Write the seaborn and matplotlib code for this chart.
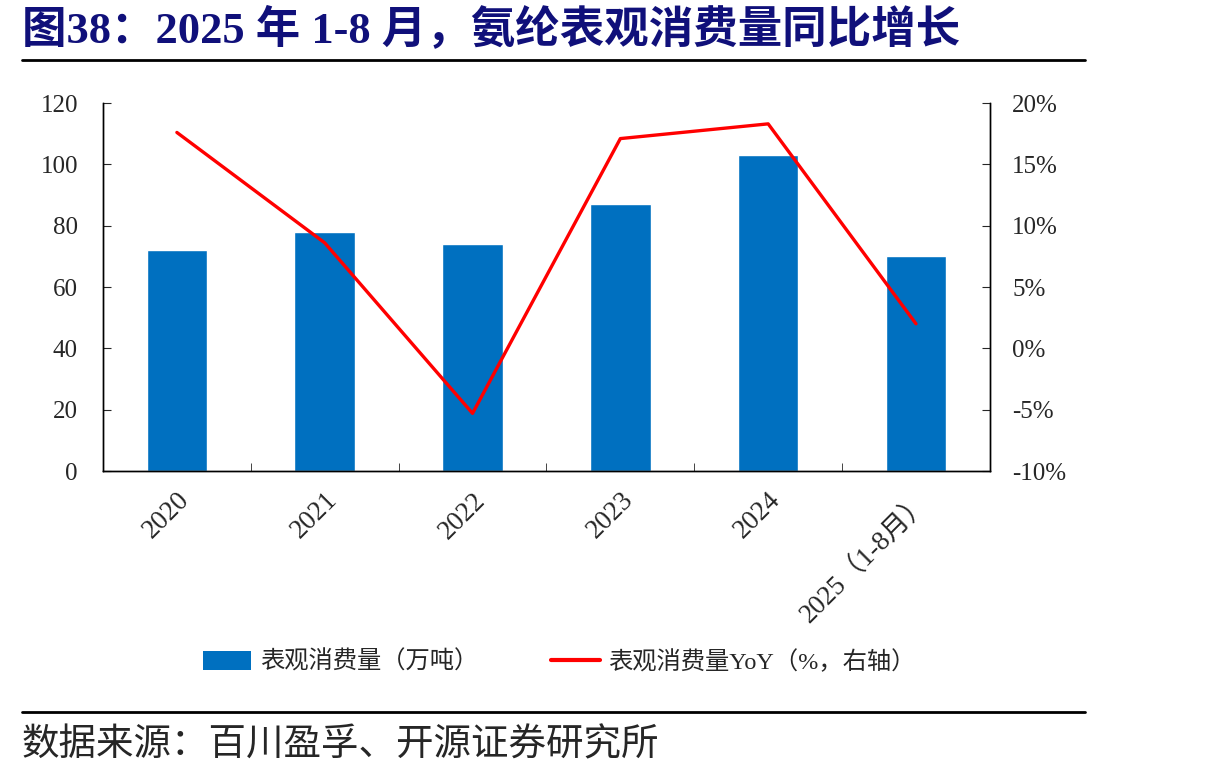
import numpy as np
import pandas as pd
import matplotlib
matplotlib.use('Agg')
import matplotlib.pyplot as plt
import seaborn as sns
from matplotlib.lines import Line2D
from matplotlib.patches import Patch
from matplotlib.ticker import FuncFormatter, FixedLocator

# --- Dados ---
anos = ['2020', '2021', '2022', '2023', '2024', '2025（1-8月）']
consumo = [72, 78, 74, 87, 103, 70]          # 万吨
consumo_yoy = [17.6, 8.6, -5.3, 17.1, 18.3, 2.0]  # %

COR_BARRA = '#0070C0'
COR_LINHA = '#FF0000'

sns.set_style('ticks')
plt.rcParams['font.family'] = ['Liberation Serif', 'Noto Sans CJK SC']
plt.rcParams['axes.unicode_minus'] = False

df = pd.DataFrame({'ano': anos, 'consumo': consumo, 'yoy': consumo_yoy})

fig = plt.figure(figsize=(12.1, 7.78), dpi=100)
ax = fig.add_axes([0.0851, 0.3946, 0.733, 0.473])

sns.barplot(data=df, x='ano', y='consumo', color=COR_BARRA, width=0.41,
            saturation=1, ax=ax)
ax.set_ylim(0, 120)
ax.set_yticks(np.arange(0, 121, 20))
ax.set_xlim(-0.5, len(anos) - 0.5)
ax.set_xlabel('')
ax.set_ylabel('')

ax2 = ax.twinx()
sns.lineplot(x=np.arange(len(anos)), y=df['yoy'], color=COR_LINHA, linewidth=2.4,
             sort=False, ax=ax2)
ax2.set_ylim(-10, 20)
ax2.set_yticks(np.arange(-10, 21, 5))
ax2.yaxis.set_major_formatter(FuncFormatter(lambda v, p: f'{v:.0f}%'))
ax2.set_ylabel('')
ax2.set_xlim(-0.5, len(anos) - 0.5)

# eixos e ticks
for a in (ax, ax2):
    a.spines['top'].set_visible(False)
    for s in ('left', 'right', 'bottom'):
        a.spines[s].set_color('black')
        a.spines[s].set_linewidth(1.0)
ax.tick_params(axis='y', direction='in', length=6, labelsize=18, pad=18)
ax2.tick_params(axis='y', direction='in', length=6, labelsize=18, pad=16)
ax.set_xticks(np.arange(len(anos)))
ax.set_xticklabels(anos, rotation=45, ha='right', rotation_mode='anchor', fontsize=19.5)
ax.tick_params(axis='x', which='major', length=0, pad=12)
ax.xaxis.set_minor_locator(FixedLocator(np.arange(0.5, len(anos) - 0.5, 1)))
ax.tick_params(axis='x', which='minor', direction='in', length=6)

# legenda
handles = [Patch(facecolor=COR_BARRA, edgecolor='none'),
           Line2D([0], [0], color=COR_LINHA, linewidth=3)]
labels = ['表观消费量（万吨）', '表观消费量YoY（%，右轴）']
fig.legend(handles, labels, loc='center', bbox_to_anchor=(0.462, 0.149), ncol=2,
           frameon=False, fontsize=17.5, handlelength=2.0, handleheight=0.8,
           columnspacing=3.0, handletextpad=0.35)

# titulo, fonte e linhas
fig.text(0.018, 0.962, '图38：2025 年 1-8 月，氨纶表观消费量同比增长', fontsize=32,
         fontweight='bold', color='#10107a', va='center', ha='left',
         family=['Liberation Serif', 'Noto Sans CJK SC'])
fig.add_artist(Line2D([0.018, 0.897], [0.923, 0.923], color='black', linewidth=2))
fig.add_artist(Line2D([0.018, 0.897], [0.085, 0.085], color='black', linewidth=2))
fig.text(0.018, 0.042, '数据来源：百川盈孚、开源证券研究所', fontsize=27,
         va='center', ha='left', family=['Noto Sans CJK SC'])

fig.savefig('out.png', dpi=100)
plt.close(fig)
